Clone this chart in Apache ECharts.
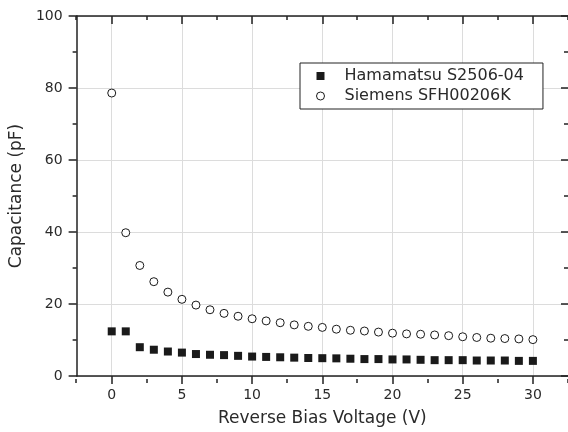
<!DOCTYPE html>
<html>
<head>
<meta charset="utf-8">
<script src="https://cdn.jsdelivr.net/npm/echarts@6/dist/echarts.min.js"></script>
<style>
html,body{margin:0;padding:0;background:#fff;}
#chart{width:568px;height:432px;}
</style>
</head>
<body>
<div id="chart"></div>
<script>
// ---- data ----
const voltage = [0,1,2,3,4,5,6,7,8,9,10,11,12,13,14,15,16,17,18,19,20,21,22,23,24,25,26,27,28,29,30];
const hamamatsu = [12.4,12.4,8.0,7.3,6.8,6.5,6.1,5.9,5.8,5.6,5.4,5.3,5.2,5.1,5.0,4.95,4.9,4.8,4.7,4.7,4.6,4.6,4.5,4.4,4.4,4.4,4.3,4.3,4.3,4.2,4.2];
const siemens = [78.6,39.8,30.7,26.2,23.3,21.3,19.7,18.4,17.4,16.6,15.9,15.3,14.8,14.2,13.8,13.5,13.0,12.7,12.5,12.2,11.9,11.7,11.6,11.4,11.2,10.9,10.7,10.5,10.4,10.3,10.1];
const seriesNames = ['Hamamatsu S2506-04','Siemens SFH00206K'];
const xMajorTicks = [0,5,10,15,20,25,30];
const xMinorTicks = [-2.5,2.5,7.5,12.5,17.5,22.5,27.5,32.5];
const xTitle = 'Reverse Bias Voltage (V)';
const yTitle = 'Capacitance (pF)';

const FONT = 'DejaVu Sans';
const AX = '#222';
const TX = '#2a2a2a';
const X_MIN = -2.5, X_MAX = 32.5;
const gridRect = {left: 76, top: 16, right: 0, bottom: 53};

const chart = echarts.init(document.getElementById('chart'), null, {renderer: 'canvas'});
chart.setOption({
  animation: false,
  backgroundColor: '#fff',
  grid: [Object.assign({containLabel: false}, gridRect), Object.assign({containLabel: false}, gridRect)],
  legend: {
    orient: 'vertical',
    left: 300, top: 63,
    padding: [5, 19, 5, 16],
    itemGap: 4,
    itemWidth: 8, itemHeight: 8,
    borderColor: '#222', borderWidth: 1,
    backgroundColor: '#fff',
    textStyle: {fontFamily: FONT, fontSize: 16, color: TX, padding: [0, 0, 0, 15]},
    data: [
      {name: seriesNames[0], icon: 'rect', itemStyle: {color: '#1a1a1a', borderWidth: 0}},
      {name: seriesNames[1], icon: 'circle', itemStyle: {color: '#fff', borderColor: '#1a1a1a', borderWidth: 1}}
    ]
  },
  xAxis: [
    {gridIndex: 0, type: 'value', position: 'bottom', min: X_MIN, max: X_MAX,
     axisLine: {show: true, onZero: false, lineStyle: {color: AX, width: 1.5}},
     axisTick: {show: true, customValues: xMajorTicks, length: 8, inside: false, lineStyle: {color: AX, width: 1.5}},
     axisLabel: {show: true, customValues: xMajorTicks, margin: 12, fontFamily: FONT, fontSize: 14, color: TX},
     splitLine: {show: true, lineStyle: {color: '#dcdcdc', width: 1}},
     name: xTitle, nameLocation: 'middle', nameGap: 34,
     nameTextStyle: {fontFamily: FONT, fontSize: 17, color: TX}},
    {gridIndex: 0, type: 'value', position: 'top', min: X_MIN, max: X_MAX,
     axisLine: {show: true, onZero: false, lineStyle: {color: AX, width: 1.5}},
     axisTick: {show: true, customValues: xMajorTicks, length: 8, inside: true, lineStyle: {color: AX, width: 1.5}},
     axisLabel: {show: false}, splitLine: {show: false}},
    {gridIndex: 1, type: 'value', position: 'bottom', min: X_MIN, max: X_MAX,
     axisLine: {show: false, onZero: false},
     axisTick: {show: true, customValues: xMinorTicks, length: 4, inside: false, lineStyle: {color: AX, width: 1.5}},
     axisLabel: {show: false}, splitLine: {show: false}},
    {gridIndex: 1, type: 'value', position: 'top', min: X_MIN, max: X_MAX,
     axisLine: {show: false, onZero: false},
     axisTick: {show: true, customValues: xMinorTicks, length: 4, inside: true, lineStyle: {color: AX, width: 1.5}},
     axisLabel: {show: false}, splitLine: {show: false}}
  ],
  yAxis: [
    {gridIndex: 0, type: 'value', position: 'left', min: 0, max: 100, interval: 20,
     axisLine: {show: true, onZero: false, lineStyle: {color: AX, width: 1.5}},
     axisTick: {show: true, length: 8, inside: false, lineStyle: {color: AX, width: 1.5}},
     minorTick: {show: true, splitNumber: 2, length: 4, lineStyle: {color: AX, width: 1.5}},
     axisLabel: {show: true, margin: 14, fontFamily: FONT, fontSize: 14, color: TX},
     splitLine: {show: true, lineStyle: {color: '#dcdcdc', width: 1}},
     name: yTitle, nameLocation: 'middle', nameGap: 51,
     nameTextStyle: {fontFamily: FONT, fontSize: 17, color: TX}},
    {gridIndex: 0, type: 'value', position: 'right', min: 0, max: 100, interval: 20,
     axisLine: {show: false, onZero: false},
     axisTick: {show: true, length: 7, inside: true, lineStyle: {color: AX, width: 1.5}},
     minorTick: {show: true, splitNumber: 2, length: 4, lineStyle: {color: AX, width: 1.5}},
     axisLabel: {show: false}, splitLine: {show: false}},
    {gridIndex: 1, type: 'value', min: 0, max: 100, show: false}
  ],
  series: [
    {name: seriesNames[0], type: 'scatter', xAxisIndex: 0, yAxisIndex: 0,
     symbol: 'rect', symbolSize: 8,
     itemStyle: {color: '#1a1a1a', opacity: 1},
     data: voltage.map((v, i) => [v, hamamatsu[i]]), z: 5},
    {name: seriesNames[1], type: 'scatter', xAxisIndex: 0, yAxisIndex: 0,
     symbol: 'circle', symbolSize: 8,
     itemStyle: {color: '#fff', borderColor: '#1a1a1a', borderWidth: 1, opacity: 1},
     data: voltage.map((v, i) => [v, siemens[i]]), z: 5}
  ]
});
</script>
</body>
</html>
